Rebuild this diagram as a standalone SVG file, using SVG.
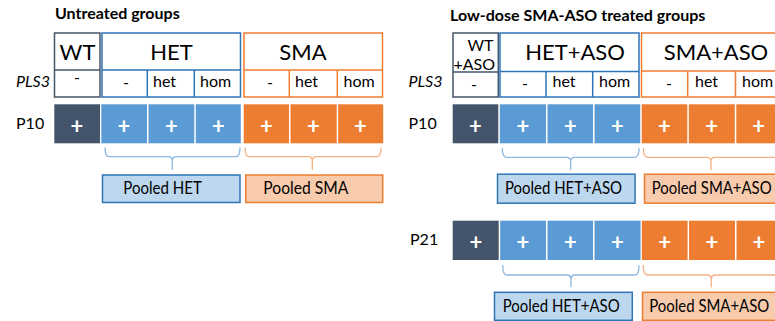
<svg xmlns="http://www.w3.org/2000/svg" width="775" height="321" viewBox="0 0 775 321">
<style>
text{font-family:"Lato","Liberation Sans",sans-serif;fill:#000}
.title{font-weight:bold;font-size:16px}
.big{font-size:22px;text-anchor:middle}
.sm{font-size:16px}
.mid{text-anchor:middle}
.lab{font-size:16px}
.it{font-style:italic}
.plus{font-weight:bold;font-size:22px;fill:#fff;text-anchor:middle}
.pool{font-size:16.5px}
.bwt{fill:#fff;stroke:#44546A;stroke-width:1.5}
.bhet{fill:#fff;stroke:#2E75B6;stroke-width:1.5}
.bsma{fill:#fff;stroke:#ED7D31;stroke-width:1.5}
.lwt{stroke:#44546A;stroke-width:1.5}
.lhet{stroke:#2E75B6;stroke-width:1.5}
.lsma{stroke:#ED7D31;stroke-width:1.5}
.cwt{fill:#44546A}
.chet{fill:#5B9BD5}
.csma{fill:#ED7D31}
.phet{fill:#BDD7EE;stroke:#2E75B6;stroke-width:1.5}
.psma{fill:#F8CBAD;stroke:#ED7D31;stroke-width:1.5}
.brh{fill:none;stroke:#8DB8E2;stroke-width:1.3}
.brs{fill:none;stroke:#F4B183;stroke-width:1.3}
</style>

<!-- LEFT PANEL -->
<g id="title-untreated"><text class="title" x="55" y="18.5">Untreated groups</text></g>
<g id="row-labels-left">
<text class="lab it" x="16" y="86.5">PLS3</text>
<text class="lab" x="16" y="128.5">P10</text>
</g>

<g id="wt">
<rect class="bwt" x="54.5" y="33" width="45.5" height="64"/>
<line class="lwt" x1="54.5" y1="70" x2="100" y2="70"/>
<text class="big" x="77.5" y="59.5">WT</text>
<text class="sm mid" x="77" y="83">-</text>
</g>
<g id="het">
<rect class="bhet" x="102" y="33" width="138.5" height="64"/>
<line class="lhet" x1="102" y1="70" x2="240.5" y2="70"/>
<line class="lhet" x1="147.3" y1="70" x2="147.3" y2="97"/>
<line class="lhet" x1="194.3" y1="70" x2="194.3" y2="97"/>
<text class="big" x="171.5" y="59.5">HET</text>
<text class="sm mid" x="126" y="88">-</text>
<text class="sm" x="153" y="86.5">het</text>
<text class="sm" x="200" y="86.5">hom</text>
</g>
<g id="sma">
<rect class="bsma" x="244" y="33" width="138.5" height="64"/>
<line class="lsma" x1="244" y1="70" x2="382.5" y2="70"/>
<line class="lsma" x1="289.3" y1="70" x2="289.3" y2="97"/>
<line class="lsma" x1="337.3" y1="70" x2="337.3" y2="97"/>
<text class="big" x="303" y="59.5">SMA</text>
<text class="sm mid" x="270" y="88">-</text>
<text class="sm" x="295" y="86.5">het</text>
<text class="sm" x="343.5" y="86.5">hom</text>
</g>

<g id="p10-left">
<rect class="cwt" x="54.3" y="104.3" width="45.7" height="39"/>
<rect class="chet" x="101.3" y="104.3" width="45.7" height="39"/>
<rect class="chet" x="148.5" y="104.3" width="45.8" height="39"/>
<rect class="chet" x="195.8" y="104.3" width="45" height="39"/>
<rect class="csma" x="243.7" y="104.3" width="45.3" height="39"/>
<rect class="csma" x="290.5" y="104.3" width="46.2" height="39"/>
<rect class="csma" x="338.2" y="104.3" width="45" height="39"/>
<text class="plus" x="77" y="133.5">+</text>
<text class="plus" x="124" y="133.5">+</text>
<text class="plus" x="171.5" y="133.5">+</text>
<text class="plus" x="218.5" y="133.5">+</text>
<text class="plus" x="266.5" y="133.5">+</text>
<text class="plus" x="313.5" y="133.5">+</text>
<text class="plus" x="360.5" y="133.5">+</text>
</g>

<g id="pooled-het-left">
<rect class="phet" x="102.5" y="175" width="137.5" height="27.5"/>
<text class="pool" x="123.3" y="194.3" textLength="78.5" lengthAdjust="spacingAndGlyphs">Pooled HET</text>
</g>
<g id="pooled-sma-left">
<rect class="psma" x="245.7" y="175" width="137" height="27.5"/>
<text class="pool" x="263.3" y="194.3" textLength="85" lengthAdjust="spacingAndGlyphs">Pooled SMA</text>
</g>

<!-- RIGHT PANEL -->
<g id="title-treated"><text class="title" x="450" y="20.5">Low-dose SMA-ASO treated groups</text></g>
<g id="row-labels-right">
<text class="lab it" x="408.5" y="87">PLS3</text>
<text class="lab" x="408.5" y="128.5">P10</text>
<text class="lab" x="410" y="245">P21</text>
</g>

<g id="wt-aso">
<rect class="bwt" x="453" y="33" width="45.3" height="64"/>
<line class="lwt" x1="453" y1="72" x2="498.3" y2="72"/>
<text class="sm" x="493.5" y="51" text-anchor="end" font-size="15">WT</text>
<text class="sm" x="495" y="69.5" text-anchor="end" font-size="14.5">+ASO</text>
<text class="sm mid" x="474" y="90">-</text>
</g>
<g id="het-aso">
<rect class="bhet" x="500" y="33" width="139" height="64"/>
<line class="lhet" x1="500" y1="71.5" x2="639" y2="71.5"/>
<line class="lhet" x1="546" y1="71.5" x2="546" y2="97"/>
<line class="lhet" x1="592.7" y1="71.5" x2="592.7" y2="97"/>
<text class="big" x="575" y="60">HET+ASO</text>
<text class="sm mid" x="525" y="89">-</text>
<text class="sm" x="552.5" y="87.3">het</text>
<text class="sm" x="599" y="87.3">hom</text>
</g>
<g id="sma-aso">
<rect class="bsma" x="641.5" y="33" width="145" height="64"/>
<line class="lsma" x1="641.5" y1="71" x2="786.5" y2="71"/>
<line class="lsma" x1="687.7" y1="71" x2="687.7" y2="97"/>
<line class="lsma" x1="735.5" y1="71" x2="735.5" y2="97"/>
<text class="big" x="716" y="60">SMA+ASO</text>
<text class="sm mid" x="669" y="89">-</text>
<text class="sm" x="695" y="87.3">het</text>
<text class="sm" x="742" y="87.3">hom</text>
</g>

<g id="p10-right">
<rect class="cwt" x="452.7" y="104.3" width="45.6" height="39"/>
<rect class="chet" x="499.8" y="104.3" width="46.2" height="39"/>
<rect class="chet" x="547.5" y="104.3" width="45.5" height="39"/>
<rect class="chet" x="594.5" y="104.3" width="45.7" height="39"/>
<rect class="csma" x="641.7" y="104.3" width="45.6" height="39"/>
<rect class="csma" x="688.8" y="104.3" width="46" height="39"/>
<rect class="csma" x="736.3" y="104.3" width="46" height="39"/>
<text class="plus" x="475.5" y="133.5">+</text>
<text class="plus" x="523" y="133.5">+</text>
<text class="plus" x="570.3" y="133.5">+</text>
<text class="plus" x="617.3" y="133.5">+</text>
<text class="plus" x="664.5" y="133.5">+</text>
<text class="plus" x="711.7" y="133.5">+</text>
<text class="plus" x="758.7" y="133.5">+</text>
</g>

<g id="pooled-het-aso-p10">
<rect class="phet" x="497.5" y="174.2" width="137.5" height="29"/>
<text class="pool" x="505" y="194" textLength="117" lengthAdjust="spacingAndGlyphs">Pooled HET+ASO</text>
</g>
<g id="pooled-sma-aso-p10">
<rect class="psma" x="644.5" y="174.2" width="145" height="29"/>
<text class="pool" x="651.7" y="194" textLength="120" lengthAdjust="spacingAndGlyphs">Pooled SMA+ASO</text>
</g>

<g id="p21-right">
<rect class="cwt" x="452.7" y="220.7" width="46" height="39.3"/>
<rect class="chet" x="500.2" y="220.7" width="45.8" height="39.3"/>
<rect class="chet" x="547.5" y="220.7" width="45.5" height="39.3"/>
<rect class="chet" x="594.5" y="220.7" width="46" height="39.3"/>
<rect class="csma" x="641.8" y="220.7" width="45.8" height="39.3"/>
<rect class="csma" x="689" y="220.7" width="46" height="39.3"/>
<rect class="csma" x="736.5" y="220.7" width="46" height="39.3"/>
<text class="plus" x="475.8" y="250">+</text>
<text class="plus" x="523" y="250">+</text>
<text class="plus" x="570.3" y="250">+</text>
<text class="plus" x="617.3" y="250">+</text>
<text class="plus" x="664.7" y="250">+</text>
<text class="plus" x="712" y="250">+</text>
<text class="plus" x="759" y="250">+</text>
</g>

<g id="pooled-het-aso-p21">
<rect class="phet" x="494.5" y="292.3" width="137.8" height="28"/>
<text class="pool" x="502.7" y="311.7" textLength="117" lengthAdjust="spacingAndGlyphs">Pooled HET+ASO</text>
</g>
<g id="pooled-sma-aso-p21">
<rect class="psma" x="642.5" y="292.3" width="145" height="28"/>
<text class="pool" x="649.3" y="311.7" textLength="120" lengthAdjust="spacingAndGlyphs">Pooled SMA+ASO</text>
</g>

<g id="connectors">
<path class="brh" d="M105,147.5 Q105,156.7 109,156.7 L168.3,156.7 Q172.3,156.7 172.3,161 L172.3,170 M172.3,161 Q172.3,156.7 176.3,156.7 L236,156.7 Q240,156.7 240,147.5"/>
<path class="brs" d="M245,147.5 Q245,156.7 249,156.7 L308.3,156.7 Q312.3,156.7 312.3,161 L312.3,170 M312.3,161 Q312.3,156.7 316.3,156.7 L377,156.7 Q381,156.7 381,147.5"/>
<path class="brh" d="M502.3,148 Q502.3,157.3 506.3,157.3 L566.7,157.3 Q570.7,157.3 570.7,161.5 L570.7,170 M570.7,161.5 Q570.7,157.3 574.7,157.3 L635,157.3 Q639,157.3 639,148"/>
<path class="brs" d="M643.3,148 Q643.3,157.3 647.3,157.3 L707,157.3 Q711,157.3 711,161.5 L711,170 M711,161.5 Q711,157.3 715,157.3 L775,157.3 Q779,157.3 779,148"/>
<path class="brh" d="M502.7,265 Q502.7,275 506.7,275 L567,275 Q571,275 571,279.5 L571,287.3 M571,279.5 Q571,275 575,275 L635,275 Q639,275 639,265"/>
<path class="brs" d="M643.3,265 Q643.3,275 647.3,275 L707.3,275 Q711.3,275 711.3,279.5 L711.3,287.3 M711.3,279.5 Q711.3,275 715.3,275 L775,275 Q779,275 779,265"/>
</g>
</svg>
